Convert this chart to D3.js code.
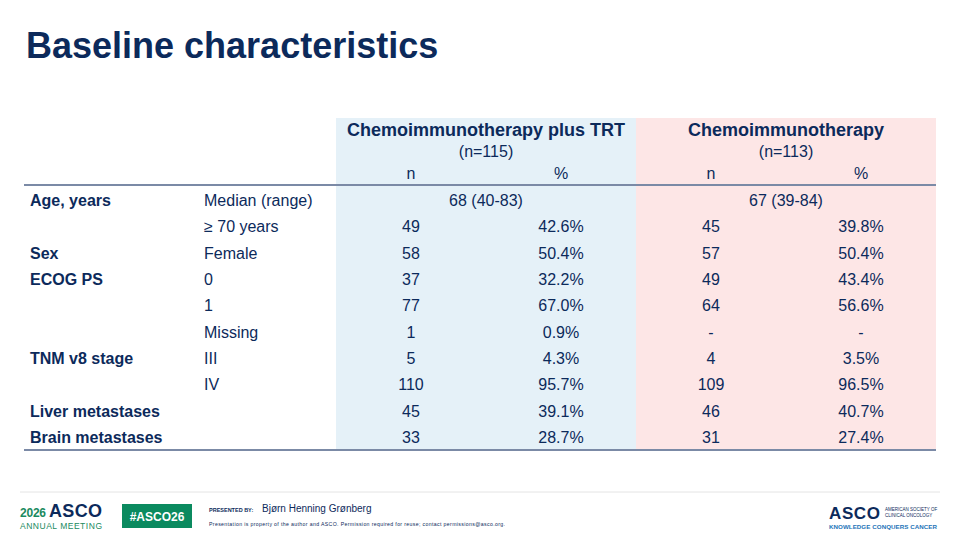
<!DOCTYPE html>
<html>
<head>
<meta charset="utf-8">
<script src="https://cdn.jsdelivr.net/npm/d3@7"></script>
<style>
  html, body { margin: 0; padding: 0; background: #fff; }
  svg { display: block; font-family: "Liberation Sans", Arial, sans-serif; }
</style>
</head>
<body>
<svg id="slide" width="960" height="540"></svg>
<script>
// Table content
const groups = ["Age, years", "", "Sex", "ECOG PS", "", "", "TNM v8 stage", "", "Liver metastases", "Brain metastases"];
const subgroups = ["Median (range)", "\u2265 70 years", "Female", "0", "1", "Missing", "III", "IV", "", ""];
const trtN =   [null, "49", "58", "37", "77", "1", "5", "110", "45", "33"];
const trtPct = [null, "42.6%", "50.4%", "32.2%", "67.0%", "0.9%", "4.3%", "95.7%", "39.1%", "28.7%"];
const chN =    [null, "45", "57", "49", "64", "-", "4", "109", "46", "31"];
const chPct =  [null, "39.8%", "50.4%", "43.4%", "56.6%", "-", "3.5%", "96.5%", "40.7%", "27.4%"];
const medians = ["68 (40-83)", "67 (39-84)"];
const arms = ["Chemoimmunotherapy plus TRT", "Chemoimmunotherapy"];
const armN = ["(n=115)", "(n=113)"];
const columns = ["trtN", "trtPct", "chN", "chPct"];
const colHeads = ["n", "%", "n", "%"];

const navy = "#0c2a5b";
const svg = d3.select("#slide");

// Title
svg.append("text")
  .attr("x", 26).attr("y", 58)
  .attr("font-size", 36).attr("font-weight", "bold")
  .attr("fill", navy)
  .text("Baseline characteristics");

// Scales
const rows = d3.range(groups.length);
const y = d3.scaleBand().domain(rows).range([187, 450]);
const x = d3.scaleBand().domain(columns).range([336, 936]);
const armX = d3.scaleBand().domain([0, 1]).range([336, 936]);

// Column backgrounds
svg.selectAll("rect.arm")
  .data([0, 1])
  .join("rect")
  .attr("class", "arm")
  .attr("x", d => armX(d))
  .attr("y", 118)
  .attr("width", armX.bandwidth())
  .attr("height", 450 - 118)
  .attr("fill", d => d === 0 ? "#e5f1f8" : "#fde6e6");

// Arm headers
const head = svg.selectAll("g.head")
  .data([0, 1])
  .join("g")
  .attr("class", "head")
  .attr("transform", d => `translate(${armX(d) + armX.bandwidth() / 2},0)`)
  .attr("text-anchor", "middle")
  .attr("fill", navy);

head.append("text")
  .attr("y", 136)
  .attr("font-size", 18).attr("font-weight", "bold")
  .text(d => arms[d]);

head.append("text")
  .attr("y", 157)
  .attr("font-size", 16)
  .text(d => armN[d]);

svg.selectAll("text.colhead")
  .data(columns)
  .join("text")
  .attr("class", "colhead")
  .attr("x", d => x(d) + x.bandwidth() / 2)
  .attr("y", 179)
  .attr("text-anchor", "middle")
  .attr("font-size", 16)
  .attr("fill", navy)
  .text((d, i) => colHeads[i]);

// Rules
svg.selectAll("line.rule")
  .data([185, 450])
  .join("line")
  .attr("class", "rule")
  .attr("x1", 24).attr("x2", 936)
  .attr("y1", d => d).attr("y2", d => d)
  .attr("stroke", "#7b8aa6")
  .attr("stroke-width", 2.2);

// Body rows
const rowG = svg.selectAll("g.row")
  .data(rows)
  .join("g")
  .attr("class", "row")
  .attr("transform", d => `translate(0,${y(d) + y.bandwidth() / 2 + 6})`)
  .attr("font-size", 16)
  .attr("fill", navy);

rowG.append("text")
  .attr("x", 30)
  .attr("font-weight", "bold")
  .text(d => groups[d]);

rowG.append("text")
  .attr("x", 204)
  .text(d => subgroups[d]);

const values = { trtN, trtPct, chN, chPct };
columns.forEach(c => {
  rowG.filter(d => values[c][d] !== null)
    .append("text")
    .attr("x", x(c) + x.bandwidth() / 2)
    .attr("text-anchor", "middle")
    .text(d => values[c][d]);
});

// Median row spans both sub-columns of each arm
rowG.filter(d => trtN[d] === null)
  .selectAll("text.median")
  .data(medians)
  .join("text")
  .attr("class", "median")
  .attr("x", (d, i) => armX(i) + armX.bandwidth() / 2)
  .attr("text-anchor", "middle")
  .text(d => d);

// Footer
svg.append("line")
  .attr("x1", 20).attr("x2", 940)
  .attr("y1", 492).attr("y2", 492)
  .attr("stroke", "#e4e4e4").attr("stroke-width", 1);

const green = "#1a8a60";
svg.append("text")
  .attr("x", 20).attr("y", 517)
  .attr("font-size", 12).attr("font-weight", "bold").attr("fill", green)
  .attr("textLength", 26)
  .text("2026");
svg.append("text")
  .attr("x", 49).attr("y", 517)
  .attr("font-size", 18).attr("font-weight", "900").attr("fill", navy)
  .attr("textLength", 53)
  .text("ASCO");
svg.append("text")
  .attr("x", 20).attr("y", 529)
  .attr("font-size", 8.5).attr("fill", green)
  .attr("textLength", 82)
  .text("ANNUAL MEETING");

svg.append("rect")
  .attr("x", 122).attr("y", 504)
  .attr("width", 70).attr("height", 24)
  .attr("fill", "#0b8a5f");
svg.append("text")
  .attr("x", 157).attr("y", 521)
  .attr("text-anchor", "middle")
  .attr("font-size", 12).attr("font-weight", "bold")
  .attr("fill", "#fff")
  .text("#ASCO26");

svg.append("text")
  .attr("x", 209).attr("y", 512)
  .attr("font-size", 5.5).attr("font-weight", "bold").attr("fill", navy)
  .text("PRESENTED BY:");
svg.append("text")
  .attr("x", 262).attr("y", 512)
  .attr("font-size", 10).attr("fill", navy)
  .text("Bjørn Henning Grønberg");
svg.append("text")
  .attr("x", 209).attr("y", 526)
  .attr("font-size", 5.2).attr("fill", navy)
  .attr("textLength", 296)
  .text("Presentation is property of the author and ASCO. Permission required for reuse; contact permissions@asco.org.");

svg.append("text")
  .attr("x", 829).attr("y", 519)
  .attr("font-size", 17).attr("font-weight", "900").attr("fill", navy)
  .attr("textLength", 51)
  .text("ASCO");
svg.append("text")
  .attr("x", 885).attr("y", 511)
  .attr("font-size", 4.5).attr("fill", navy)
  .text("AMERICAN SOCIETY OF");
svg.append("text")
  .attr("x", 885).attr("y", 517)
  .attr("font-size", 4.5).attr("fill", navy)
  .text("CLINICAL ONCOLOGY");
svg.append("text")
  .attr("x", 829).attr("y", 529)
  .attr("font-size", 6.2).attr("font-weight", "bold").attr("fill", "#1d74b8")
  .attr("textLength", 108)
  .text("KNOWLEDGE CONQUERS CANCER");
</script>
</body>
</html>
